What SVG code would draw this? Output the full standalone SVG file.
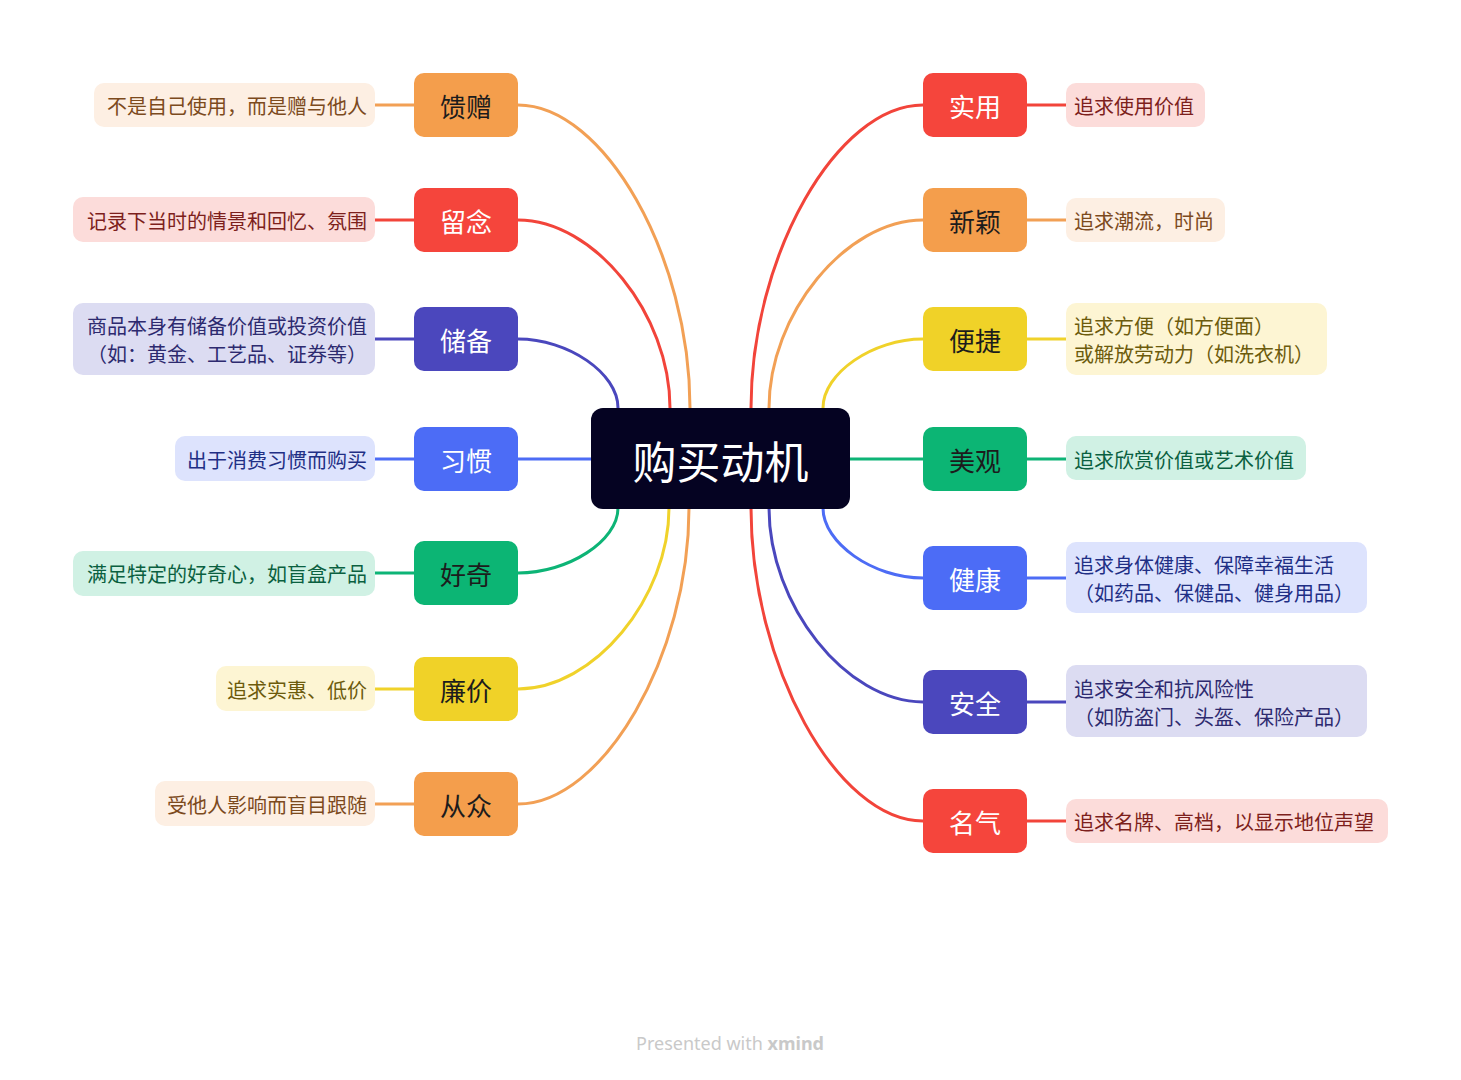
<svg xmlns="http://www.w3.org/2000/svg" width="1461" height="1080" viewBox="0 0 1461 1080">
<style>
text{font-family:"Noto Sans CJK SC","Noto Sans",sans-serif;}
.main{font-size:26px;text-anchor:middle;dominant-baseline:central;}
.sub{font-size:20px;dominant-baseline:central;}
.l{text-anchor:end;}
.r{text-anchor:start;}
.w{fill:#ffffff;}
.d{fill:#1c1c1c;}
.c{fill:none;stroke-width:3;stroke-linecap:round;}
.s{fill:none;stroke-width:3;}
.or{stroke:#F2A055;} .re{stroke:#F2443A;} .pu{stroke:#4A47BD;} .bl{stroke:#4D6CF5;} .gr{stroke:#0DB476;} .ye{stroke:#F0D22A;}
.fo{fill:#F49E4C;} .fr{fill:#F5453C;} .fp{fill:#4B47BD;} .fb{fill:#4C6CF6;} .fg{fill:#0CB574;} .fy{fill:#F0D228;}
.po{fill:#FDEFE3;} .pr{fill:#FCDCDA;} .pp{fill:#DCDCF2;} .pb{fill:#DDE3FD;} .pg{fill:#D0F1E4;} .py{fill:#FDF5D3;}
.to{fill:#7C4A1D;} .tr{fill:#7D1F1C;} .tp{fill:#2D2A6F;} .tb{fill:#1F2F85;} .tg{fill:#0A6040;} .ty{fill:#6C5B0C;}
</style>
<rect width="1461" height="1080" fill="#ffffff"/>
<g id="connectors">
  <path class="c or" d="M518,105 C604,105 690,256 690,408"/>
  <path class="c re" d="M518,220 C594,220 670,314 670,408"/>
  <path class="c pu" d="M518,339 C568,339 618,373 618,408"/>
  <path class="c bl" d="M518,459 L591,459"/>
  <path class="c gr" d="M518,573 C568,573 618,541 618,508"/>
  <path class="c ye" d="M518,689 C594,689 669,598 669,508"/>
  <path class="c or" d="M518,804 C603,804 689,656 689,508"/>
  <path class="c re" d="M923,105 C837,105 751,256 751,408"/>
  <path class="c or" d="M923,220 C846,220 769,314 769,408"/>
  <path class="c ye" d="M923,339 C873,339 823,373 823,408"/>
  <path class="c gr" d="M850,459 L923,459"/>
  <path class="c bl" d="M923,578 C873,578 823,543 823,508"/>
  <path class="c pu" d="M923,702 C846,702 769,605 769,508"/>
  <path class="c re" d="M923,821 C837,821 751,665 751,508"/>
  <path class="s or" d="M375,105 L414,105"/>
  <path class="s re" d="M375,220 L414,220"/>
  <path class="s pu" d="M375,339 L414,339"/>
  <path class="s bl" d="M375,459 L414,459"/>
  <path class="s gr" d="M375,573 L414,573"/>
  <path class="s ye" d="M375,689 L414,689"/>
  <path class="s or" d="M375,804 L414,804"/>
  <path class="s re" d="M1027,105 L1066,105"/>
  <path class="s or" d="M1027,220 L1066,220"/>
  <path class="s ye" d="M1027,339 L1066,339"/>
  <path class="s gr" d="M1027,459 L1066,459"/>
  <path class="s bl" d="M1027,578 L1066,578"/>
  <path class="s pu" d="M1027,702 L1066,702"/>
  <path class="s re" d="M1027,821 L1066,821"/>
</g>
<g id="center">
  <rect x="591" y="408" width="259" height="101" rx="12" fill="#050322"/>
  <text x="720.5" y="460" font-size="44" text-anchor="middle" dominant-baseline="central" fill="#ffffff">购买动机</text>
</g>
<g id="kuizeng"><rect x="414" y="73" width="104" height="64" rx="10" class="fo"/><text x="466" y="105" class="main d">馈赠</text></g>
<g id="liunian"><rect x="414" y="188" width="104" height="64" rx="10" class="fr"/><text x="466" y="220" class="main w">留念</text></g>
<g id="chubei"><rect x="414" y="307" width="104" height="64" rx="10" class="fp"/><text x="466" y="339" class="main w">储备</text></g>
<g id="xiguan"><rect x="414" y="427" width="104" height="64" rx="10" class="fb"/><text x="466" y="459" class="main w">习惯</text></g>
<g id="haoqi"><rect x="414" y="541" width="104" height="64" rx="10" class="fg"/><text x="466" y="573" class="main d">好奇</text></g>
<g id="lianjia"><rect x="414" y="657" width="104" height="64" rx="10" class="fy"/><text x="466" y="689" class="main d">廉价</text></g>
<g id="congzhong"><rect x="414" y="772" width="104" height="64" rx="10" class="fo"/><text x="466" y="804" class="main d">从众</text></g>
<g id="shiyong"><rect x="923" y="73" width="104" height="64" rx="10" class="fr"/><text x="975" y="105" class="main w">实用</text></g>
<g id="xinying"><rect x="923" y="188" width="104" height="64" rx="10" class="fo"/><text x="975" y="220" class="main d">新颖</text></g>
<g id="bianjie"><rect x="923" y="307" width="104" height="64" rx="10" class="fy"/><text x="975" y="339" class="main d">便捷</text></g>
<g id="meiguan"><rect x="923" y="427" width="104" height="64" rx="10" class="fg"/><text x="975" y="459" class="main d">美观</text></g>
<g id="jiankang"><rect x="923" y="546" width="104" height="64" rx="10" class="fb"/><text x="975" y="578" class="main w">健康</text></g>
<g id="anquan"><rect x="923" y="670" width="104" height="64" rx="10" class="fp"/><text x="975" y="702" class="main w">安全</text></g>
<g id="mingqi"><rect x="923" y="789" width="104" height="64" rx="10" class="fr"/><text x="975" y="821" class="main w">名气</text></g>
<g id="kuizeng-sub"><rect x="94" y="83" width="281" height="44" rx="10" class="po"/><text x="367" y="105" class="sub l to">不是自己使用，而是赠与他人</text></g>
<g id="liunian-sub"><rect x="73" y="197" width="302" height="45" rx="10" class="pr"/><text x="367" y="220" class="sub l tr">记录下当时的情景和回忆、氛围</text></g>
<g id="chubei-sub"><rect x="73" y="303" width="302" height="72" rx="10" class="pp"/><text x="367" y="325" class="sub l tp">商品本身有储备价值或投资价值</text><text x="367" y="353" class="sub l tp">（如：黄金、工艺品、证券等）</text></g>
<g id="xiguan-sub"><rect x="175" y="436" width="200" height="45" rx="10" class="pb"/><text x="367" y="459" class="sub l tb">出于消费习惯而购买</text></g>
<g id="haoqi-sub"><rect x="73" y="551" width="302" height="45" rx="10" class="pg"/><text x="367" y="573" class="sub l tg">满足特定的好奇心，如盲盒产品</text></g>
<g id="lianjia-sub"><rect x="216" y="666" width="159" height="45" rx="10" class="py"/><text x="367" y="689" class="sub l ty">追求实惠、低价</text></g>
<g id="congzhong-sub"><rect x="155" y="781" width="220" height="45" rx="10" class="po"/><text x="367" y="804" class="sub l to">受他人影响而盲目跟随</text></g>
<g id="shiyong-sub"><rect x="1066" y="83" width="139" height="44" rx="10" class="pr"/><text x="1074" y="105" class="sub r tr">追求使用价值</text></g>
<g id="xinying-sub"><rect x="1066" y="198" width="159" height="44" rx="10" class="po"/><text x="1074" y="220" class="sub r to">追求潮流，时尚</text></g>
<g id="bianjie-sub"><rect x="1066" y="303" width="261" height="72" rx="10" class="py"/><text x="1074" y="325" class="sub r ty">追求方便（如方便面）</text><text x="1074" y="353" class="sub r ty">或解放劳动力（如洗衣机）</text></g>
<g id="meiguan-sub"><rect x="1066" y="436" width="240" height="44" rx="10" class="pg"/><text x="1074" y="459" class="sub r tg">追求欣赏价值或艺术价值</text></g>
<g id="jiankang-sub"><rect x="1066" y="542" width="301" height="71" rx="10" class="pb"/><text x="1074" y="564" class="sub r tb">追求身体健康、保障幸福生活</text><text x="1074" y="592" class="sub r tb">（如药品、保健品、健身用品）</text></g>
<g id="anquan-sub"><rect x="1066" y="665" width="301" height="72" rx="10" class="pp"/><text x="1074" y="688" class="sub r tp">追求安全和抗风险性</text><text x="1074" y="716" class="sub r tp">（如防盗门、头盔、保险产品）</text></g>
<g id="mingqi-sub"><rect x="1066" y="799" width="322" height="44" rx="10" class="pr"/><text x="1074" y="821" class="sub r tr">追求名牌、高档，以显示地位声望</text></g>
<text x="730" y="1043" font-size="18" text-anchor="middle" dominant-baseline="central" fill="#C9C9C9" style="font-family:'Noto Sans','Open Sans',sans-serif">Presented with <tspan font-weight="bold">xmind</tspan></text>
</svg>
